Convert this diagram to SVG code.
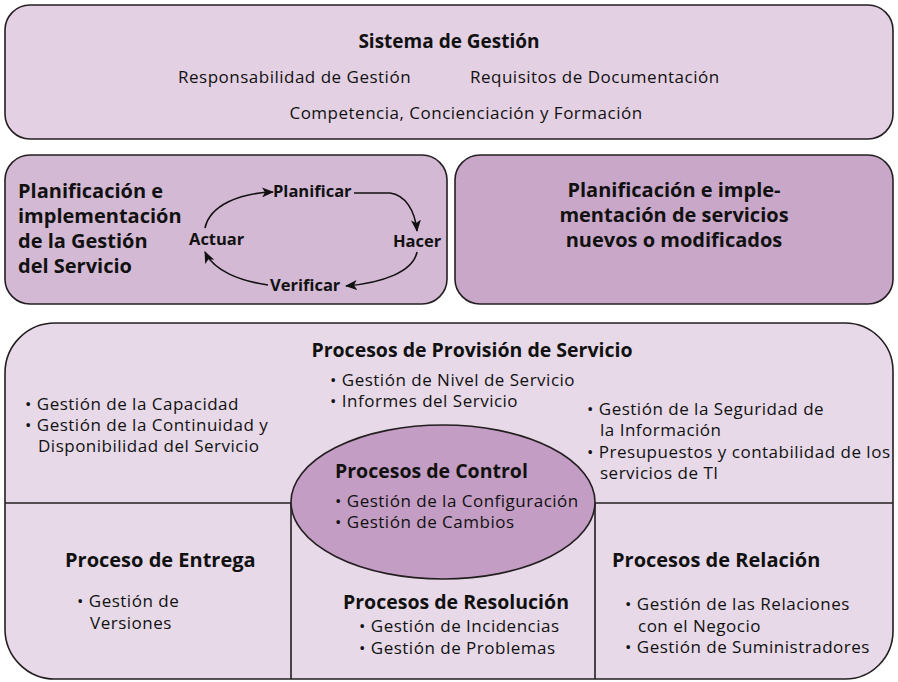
<svg xmlns="http://www.w3.org/2000/svg" width="898" height="682" viewBox="0 0 898 682">
<style>
.box{stroke:#231f20;stroke-width:1.6}
.t{font-family:"Open Sans","Liberation Sans",sans-serif;fill:#111;font-size:17px;letter-spacing:0.5px}
.b{font-family:"Open Sans","Liberation Sans",sans-serif;fill:#111;font-weight:bold}
.h{font-size:19.5px}
.c{font-size:16.5px}
.ln{stroke:#231f20;stroke-width:1.6;fill:none}
.arr{stroke:#111;stroke-width:1.6;fill:none;marker-end:url(#ah)}
</style>
<defs>
<marker id="ah" viewBox="0 0 12 10" refX="11" refY="5" markerWidth="12" markerHeight="10" markerUnits="userSpaceOnUse" orient="auto">
<path d="M0,0 L12,5 L0,10 L3,5 z" fill="#111"/>
</marker>
</defs>
<rect width="898" height="682" fill="#fff"/>

<g id="sistema">
<rect class="box" x="5" y="5" width="888" height="134" rx="25" fill="#e3d0e3"/>
<text class="b" x="449" y="48" font-size="19" text-anchor="middle">Sistema de Gestión</text>
<text class="t" x="178" y="83">Responsabilidad de Gestión</text>
<text class="t" x="470" y="83">Requisitos de Documentación</text>
<text class="t" x="466" y="119" text-anchor="middle">Competencia, Concienciación y Formación</text>
</g>

<g id="planificacion-gestion">
<rect class="box" x="5" y="155" width="442" height="149" rx="25" fill="#d4b9d4"/>
<text class="b" font-size="20"><tspan x="18" y="198">Planificación e</tspan><tspan x="18" y="223">implementación</tspan><tspan x="18" y="248">de la Gestión</tspan><tspan x="18" y="273">del Servicio</tspan></text>
<text class="b c" x="273" y="197">Planificar</text>
<text class="b c" x="393" y="247">Hacer</text>
<text class="b c" x="189" y="245">Actuar</text>
<text class="b c" x="270" y="291">Verificar</text>
</g>

<g id="connectors">
<path class="arr" d="M205,228 C210,205 240,193 273,192"/>
<path class="arr" d="M354,193 L390,193 C405,195 415,210 417,231"/>
<path class="arr" d="M417,252 C413,272 382,283 346,286"/>
<path class="arr" d="M268,285 C240,281 214,271 205,252"/>
</g>

<g id="planificacion-servicios">
<rect class="box" x="455" y="155" width="438" height="149" rx="25" fill="#c9a7c9"/>
<text class="b" font-size="20" text-anchor="middle"><tspan x="674" y="197">Planificación e imple-</tspan><tspan x="674" y="222">mentación de servicios</tspan><tspan x="674" y="247">nuevos o modificados</tspan></text>
</g>

<g id="procesos">
<path class="box" fill="#e7d9e8" d="M55,323 L845,323 A48,48 0 0 1 893,371 L893,631 A48,48 0 0 1 845,679 L55,679 A50,50 0 0 1 5,629 L5,373 A50,50 0 0 1 55,323 Z"/>
<line class="ln" x1="5" y1="503" x2="893" y2="503"/>
<line class="ln" x1="291" y1="503" x2="291" y2="679"/>
<line class="ln" x1="595" y1="503" x2="595" y2="679"/>
</g>

<g id="provision">
<text class="b h" x="472" y="357" text-anchor="middle">Procesos de Provisión de Servicio</text>
<text class="t"><tspan x="330" y="386">• Gestión de Nivel de Servicio</tspan><tspan x="330" y="407">• Informes del Servicio</tspan></text>
<text class="t"><tspan x="25" y="410">• Gestión de la Capacidad</tspan><tspan x="25" y="431">• Gestión de la Continuidad y</tspan><tspan x="38" y="452">Disponibilidad del Servicio</tspan></text>
<text class="t"><tspan x="587" y="415">• Gestión de la Seguridad de</tspan><tspan x="600" y="436">la Información</tspan><tspan x="587" y="458">• Presupuestos y contabilidad de los</tspan><tspan x="600" y="479">servicios de TI</tspan></text>
</g>

<g id="control">
<ellipse class="box" cx="443" cy="502" rx="152" ry="77" fill="#c49dc4"/>
<text class="b h" x="335" y="478">Procesos de Control</text>
<text class="t"><tspan x="335" y="507">• Gestión de la Configuración</tspan><tspan x="335" y="528">• Gestión de Cambios</tspan></text>
</g>

<g id="entrega">
<text class="b" font-size="20" x="65" y="567">Proceso de Entrega</text>
<text class="t"><tspan x="77" y="607">• Gestión de</tspan><tspan x="90" y="629">Versiones</tspan></text>
</g>

<g id="resolucion">
<text class="b h" x="343" y="609">Procesos de Resolución</text>
<text class="t"><tspan x="359" y="632">• Gestión de Incidencias</tspan><tspan x="359" y="654">• Gestión de Problemas</tspan></text>
</g>

<g id="relacion">
<text class="b" font-size="20" x="612" y="567">Procesos de Relación</text>
<text class="t"><tspan x="625" y="610">• Gestión de las Relaciones</tspan><tspan x="638" y="632">con el Negocio</tspan><tspan x="625" y="653">• Gestión de Suministradores</tspan></text>
</g>
</svg>
